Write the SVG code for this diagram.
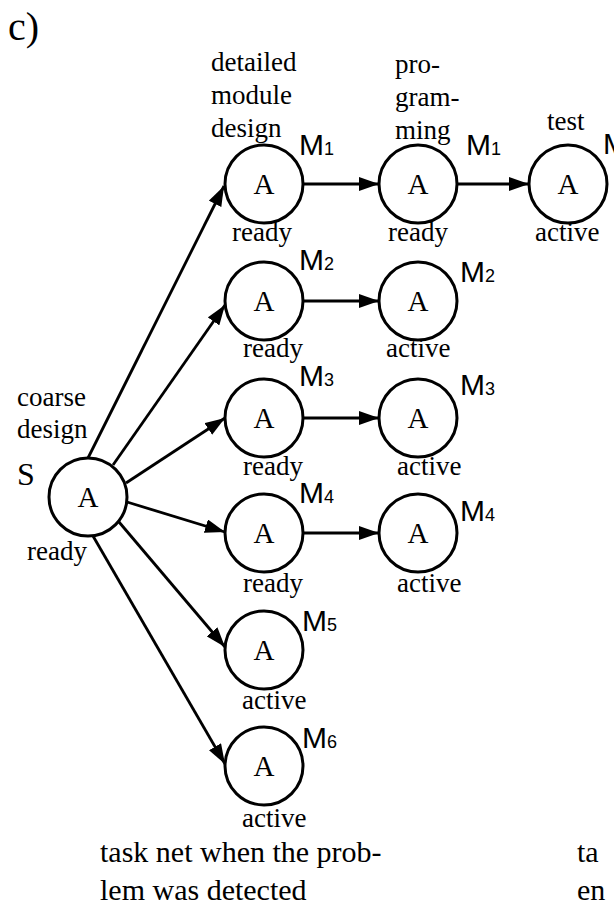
<svg xmlns="http://www.w3.org/2000/svg" width="614" height="916" viewBox="0 0 614 916">
<style>
.n{fill:#fff;stroke:#000;stroke-width:3}
.t{font-family:"Liberation Serif","Times New Roman",serif;font-size:27px;fill:#000}
.a{font-family:"Liberation Serif","Times New Roman",serif;font-size:29px;fill:#000;text-anchor:middle}
.m{font-family:"Liberation Sans",Arial,sans-serif;font-size:30px;fill:#000}
.s{font-size:18px}
.c{font-family:"Liberation Serif","Times New Roman",serif;font-size:30px;fill:#000}
.e{stroke:#000;stroke-width:2.8;fill:none;marker-end:url(#ah)}
</style>
<defs>
<marker id="ah" viewBox="0 0 20 14" refX="20" refY="7" markerWidth="20" markerHeight="14" markerUnits="userSpaceOnUse" orient="auto">
<path d="M0,0 L20,7 L0,14 Z" fill="#000"/>
</marker>
</defs>
<text class="c" x="8" y="40" style="font-size:40px">c)</text>
<g id="connectors">
<line class="e" x1="88" y1="458" x2="224" y2="186"/>
<line class="e" x1="113" y1="465" x2="225" y2="305"/>
<line class="e" x1="126" y1="483" x2="225" y2="418"/>
<line class="e" x1="127" y1="502" x2="225" y2="532"/>
<line class="e" x1="119" y1="522" x2="225" y2="647"/>
<line class="e" x1="93" y1="536" x2="225" y2="764"/>
<line class="e" x1="303" y1="184" x2="379" y2="184"/>
<line class="e" x1="457" y1="184" x2="529" y2="184"/>
<line class="e" x1="303" y1="301" x2="379" y2="301"/>
<line class="e" x1="303" y1="418" x2="379" y2="418"/>
<line class="e" x1="303" y1="533" x2="379" y2="533"/>
</g>
<g id="S">
<circle class="n" cx="88" cy="497" r="39"/>
<text class="a" x="88" y="507">A</text>
<text class="t" x="17" y="406">coarse</text>
<text class="t" x="17" y="438">design</text>
<text class="t" x="17" y="485" style="font-size:32px">S</text>
<text class="t" x="27" y="560">ready</text>
</g>
<g id="M1a">
<circle class="n" cx="264" cy="184" r="39"/>
<text class="a" x="264" y="194">A</text>
<text class="t" x="211" y="71">detailed</text>
<text class="t" x="211" y="104">module</text>
<text class="t" x="211" y="137">design</text>
<text class="m" x="299" y="155">M<tspan class="s">1</tspan></text>
<text class="t" x="232" y="241">ready</text>
</g>
<g id="M1b">
<circle class="n" cx="418" cy="184" r="39"/>
<text class="a" x="418" y="194">A</text>
<text class="t" x="395" y="73">pro-</text>
<text class="t" x="395" y="106">gram-</text>
<text class="t" x="395" y="139">ming</text>
<text class="m" x="466" y="155">M<tspan class="s">1</tspan></text>
<text class="t" x="388" y="241">ready</text>
</g>
<g id="M1c">
<circle class="n" cx="568" cy="184" r="39"/>
<text class="a" x="568" y="194">A</text>
<text class="t" x="547" y="130">test</text>
<text class="m" x="603" y="154">M</text>
<text class="t" x="535" y="241">active</text>
</g>
<g id="M2a">
<circle class="n" cx="264" cy="301" r="39"/>
<text class="a" x="264" y="311">A</text>
<text class="m" x="299" y="270">M<tspan class="s">2</tspan></text>
<text class="t" x="243" y="357">ready</text>
</g>
<g id="M2b">
<circle class="n" cx="418" cy="301" r="39"/>
<text class="a" x="418" y="311">A</text>
<text class="m" x="460" y="282">M<tspan class="s">2</tspan></text>
<text class="t" x="386" y="357">active</text>
</g>
<g id="M3a">
<circle class="n" cx="264" cy="418" r="39"/>
<text class="a" x="264" y="428">A</text>
<text class="m" x="299" y="386">M<tspan class="s">3</tspan></text>
<text class="t" x="243" y="475">ready</text>
</g>
<g id="M3b">
<circle class="n" cx="418" cy="418" r="39"/>
<text class="a" x="418" y="428">A</text>
<text class="m" x="460" y="395">M<tspan class="s">3</tspan></text>
<text class="t" x="397" y="475">active</text>
</g>
<g id="M4a">
<circle class="n" cx="264" cy="533" r="39"/>
<text class="a" x="264" y="543">A</text>
<text class="m" x="299" y="503">M<tspan class="s">4</tspan></text>
<text class="t" x="243" y="592">ready</text>
</g>
<g id="M4b">
<circle class="n" cx="418" cy="533" r="39"/>
<text class="a" x="418" y="543">A</text>
<text class="m" x="460" y="521">M<tspan class="s">4</tspan></text>
<text class="t" x="397" y="592">active</text>
</g>
<g id="M5">
<circle class="n" cx="264" cy="650" r="39"/>
<text class="a" x="264" y="660">A</text>
<text class="m" x="302" y="631">M<tspan class="s">5</tspan></text>
<text class="t" x="242" y="709">active</text>
</g>
<g id="M6">
<circle class="n" cx="264" cy="766" r="39"/>
<text class="a" x="264" y="776">A</text>
<text class="m" x="302" y="748">M<tspan class="s">6</tspan></text>
<text class="t" x="242" y="827">active</text>
</g>
<text class="c" x="100" y="862">task net when the prob-</text>
<text class="c" x="100" y="900">lem was detected</text>
<text class="c" x="577" y="862">ta</text>
<text class="c" x="577" y="900">en</text>
</svg>
